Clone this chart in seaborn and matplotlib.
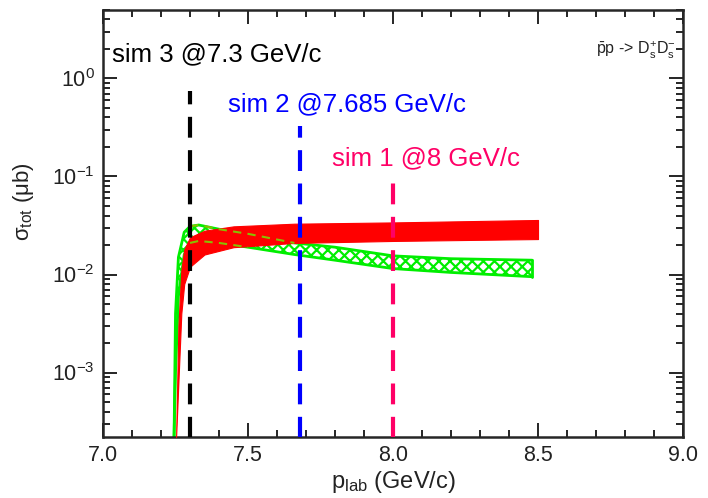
import numpy as np
import pandas as pd
import seaborn as sns
import matplotlib.pyplot as plt
from matplotlib.ticker import MultipleLocator, LogLocator, NullFormatter

# Dữ liệu
p_red = [7.252, 7.26, 7.27, 7.28, 7.30, 7.35, 7.45, 7.66, 8.00, 8.25, 8.50]
red_hi = [2.2e-4, 0.003, 0.011, 0.018, 0.024, 0.028, 0.031, 0.033, 0.034, 0.035, 0.036]
red_lo = [2.2e-4, 0.0008, 0.004, 0.008, 0.012, 0.016, 0.019, 0.021, 0.022, 0.0225, 0.023]

p_green = [7.245, 7.25, 7.26, 7.28, 7.30, 7.33, 7.40, 7.50, 7.66, 7.80, 8.00, 8.20, 8.48]
green_hi = [2.2e-4, 0.004, 0.015, 0.027, 0.031, 0.032, 0.029, 0.026, 0.021, 0.019, 0.0155, 0.0145, 0.014]
green_lo = [2.2e-4, 0.001, 0.006, 0.016, 0.021, 0.022, 0.021, 0.019, 0.016, 0.014, 0.0115, 0.0105, 0.0095]

sim_p = [7.3, 7.68, 8.0]
sim_top = [0.75, 0.33, 0.09]
sim_labels = ['sim 3 @7.3 GeV/c', 'sim 2 @7.685 GeV/c', 'sim 1 @8 GeV/c']
sim_colors = ['black', '#0000ff', '#ff0066']
label_pos = [(7.03, 1.75), (7.43, 0.55), (7.79, 0.152)]

sns.set_style('ticks')
plt.rcParams['font.family'] = ['Liberation Sans', 'DejaVu Sans']
plt.rcParams['mathtext.fontset'] = 'custom'
plt.rcParams['mathtext.rm'] = 'Liberation Sans'
plt.rcParams['mathtext.it'] = 'Liberation Sans:italic'
plt.rcParams['hatch.linewidth'] = 1.6

fig, ax = plt.subplots(figsize=(7.08, 4.98), dpi=100)
fig.subplots_adjust(left=0.1455, right=0.9647, bottom=0.1225, top=0.98)

# Dải xanh (gạch chéo)
ax.fill_between(p_green, green_lo, green_hi, facecolor='white', edgecolor='#00ee00',
                hatch='xxx', linewidth=0, zorder=2)
green_df = pd.DataFrame({'p': p_green, 'hi': green_hi, 'lo': green_lo})
sns.lineplot(data=green_df, x='p', y='hi', color='#00ee00', lw=2, ax=ax, zorder=2)
sns.lineplot(data=green_df, x='p', y='lo', color='#00ee00', lw=2, ax=ax, zorder=2)
ax.plot([p_green[-1], p_green[-1]], [green_lo[-1], green_hi[-1]], color='#00ee00', lw=2, zorder=2)

# Dải đỏ
ax.fill_between(p_red, red_lo, red_hi, color='#ff0000', linewidth=0.8, edgecolor='#ff0000', zorder=3)

# Đường viền xanh nét đứt trên vùng chồng lấn
ov = green_df[(green_df.p >= 7.30) & (green_df.p <= 7.66)]
ax.plot(ov.p, ov.hi, ls=(0, (4, 3)), color='#88c000', lw=1.5, zorder=4)
ov2 = green_df[(green_df.p >= 7.30) & (green_df.p <= 7.50)]
ax.plot(ov2.p, ov2.lo, ls=(0, (4, 3)), color='#88c000', lw=1.5, zorder=4)

# Đường thẳng đứng các mô phỏng
for x, top, lab, c, (tx, ty) in zip(sim_p, sim_top, sim_labels, sim_colors, label_pos):
    ax.plot([x, x], [1e-4, top], ls=(0, (5, 3)), color=c, lw=3, zorder=5)
    ax.text(tx, ty, lab, color=c, fontsize=18.5, va='center', ha='left')

ax.text(8.70, 1.95, r'$\bar{\rm p}$p -> D$_{\rm s}^{+}$D$_{\rm s}^{-}$',
        fontsize=11.5, va='center', ha='left', color='#222222')

ax.set_yscale('log')
ax.set_xlim(7.0, 9.0)
ax.set_ylim(2.2e-4, 5)
ax.xaxis.set_major_locator(MultipleLocator(0.5))
ax.xaxis.set_minor_locator(MultipleLocator(0.1))
ax.xaxis.set_major_formatter(plt.FuncFormatter(lambda v, _: f'{v:.1f}'))
ax.yaxis.set_major_locator(LogLocator(base=10, numticks=10))
ax.yaxis.set_minor_locator(LogLocator(base=10, subs=np.arange(2, 10), numticks=10))
ax.yaxis.set_minor_formatter(NullFormatter())

ax.tick_params(which='both', direction='in', top=True, right=True, width=1.2, colors='black',
               labelcolor='#222222')
ax.tick_params(which='major', length=10, labelsize=15.5, pad=6)
ax.tick_params(which='minor', length=5)
for s in ax.spines.values():
    s.set_linewidth(1.8)
    s.set_visible(True)

ax.set_xlabel(r'p$_{\rm lab}$ (GeV/c)', fontsize=17, color='#222222', labelpad=2)
ax.set_ylabel('σ$_{\\rm tot}$ (μb)', fontsize=16, color='#222222')
ax.yaxis.set_label_coords(-0.115, 0.55)

fig.savefig('out.png', dpi=100)
